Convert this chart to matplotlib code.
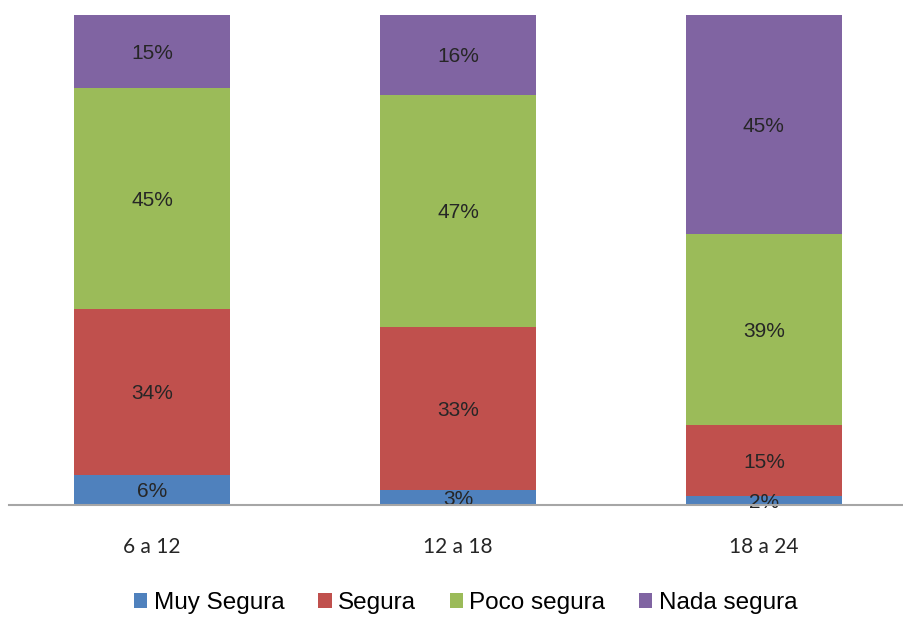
import matplotlib
matplotlib.use("Agg")
import matplotlib.pyplot as plt
import numpy as np

CATEGORIES = ["6 a 12", "12 a 18", "18 a 24"]
SERIES = ["Muy Segura", "Segura", "Poco segura", "Nada segura"]

# porcentaje por grupo de edad (cada barra suma 100)
MUY_SEGURA = [6.1, 3.1, 1.8]
SEGURA = [33.9, 33.3, 14.6]
POCO_SEGURA = [45.0, 47.3, 38.9]
NADA_SEGURA = [15.0, 16.3, 44.7]

COLORS = ["#4F81BD", "#C0504D", "#9BBB59", "#8064A2"]

LABEL_FONT = ["Liberation Sans", "DejaVu Sans"]
TICK_FONT = ["Lato", "DejaVu Sans"]


def main():
    values = [MUY_SEGURA, SEGURA, POCO_SEGURA, NADA_SEGURA]
    x = np.arange(len(CATEGORIES))

    fig = plt.figure(figsize=(9.04, 6.18), dpi=100)
    ax = fig.add_axes([0.01, 0.183, 0.99, 0.793])

    bottom = np.zeros(len(CATEGORIES))
    handles = []
    for name, vals, color in zip(SERIES, values, COLORS):
        vals = np.array(vals)
        bars = ax.bar(x, vals, bottom=bottom, width=0.51, color=color,
                      label=name, zorder=2)
        handles.append(bars)
        for xi, b, v in zip(x, bottom, vals):
            ax.text(xi, b + v / 2, "%.0f%%" % v, ha="center",
                    va="center_baseline", fontsize=15, color="#262626",
                    family=LABEL_FONT, zorder=3)
        bottom += vals

    ax.set_xlim(-0.468, 2.458)
    ax.set_ylim(0, 100)
    ax.set_xticks(x)
    ax.set_xticklabels(CATEGORIES, family=TICK_FONT, fontsize=15,
                       color="#262626")
    ax.tick_params(axis="x", length=0, pad=23)
    ax.set_yticks([])
    for side in ("top", "right", "left"):
        ax.spines[side].set_visible(False)
    ax.spines["bottom"].set_color("#A6A6A6")
    ax.spines["bottom"].set_linewidth(1.5)
    ax.spines["bottom"].set_zorder(4)

    fig.legend(handles, SERIES, loc="center", bbox_to_anchor=(0.515, 0.024),
               ncol=4, frameon=False, handlelength=0.55, handleheight=0.55,
               handletextpad=0.25, columnspacing=1.4, borderpad=0.1,
               prop={"family": LABEL_FONT, "size": 17.5})

    fig.savefig("out.png", dpi=100)


if __name__ == "__main__":
    main()
